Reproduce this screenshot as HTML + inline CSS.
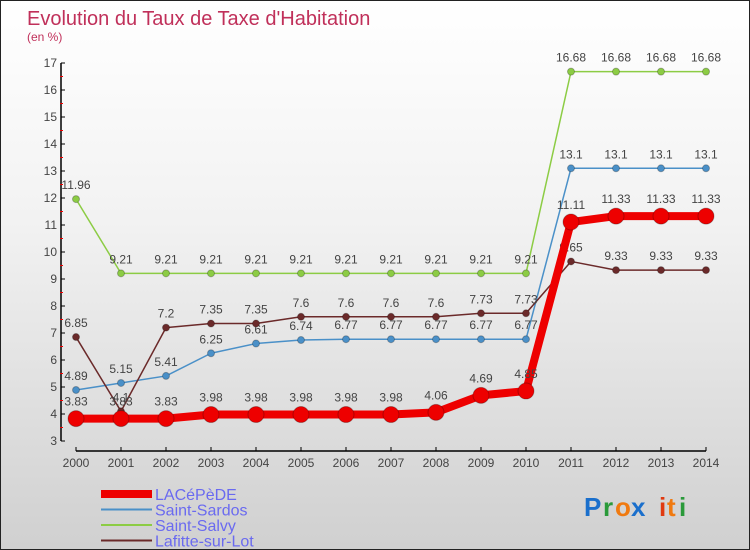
<!DOCTYPE html>
<html><head><meta charset="utf-8"><style>
body{margin:0;}
#c{width:750px;height:550px;position:relative;overflow:hidden;box-sizing:border-box;border:1px solid #222;background:linear-gradient(#ffffff,#f2f2f2 40%,#d0d0d0);font-family:"Liberation Sans",sans-serif;}
svg text{font-family:"Liberation Sans",sans-serif;}
</style></head><body>
<div id="c">
<svg id="s" width="750" height="550">
<text x="26" y="24" font-size="20" fill="#c0305a">Evolution du Taux de Taxe d'Habitation</text>
<text x="26" y="40" font-size="12" fill="#c0305a">(en %)</text>
<g id="axes"></g><g id="series"></g><g id="legend"></g>
<g font-size="26" font-weight="bold">
<text x="583" y="515" fill="#1a6fcc">P</text><text x="602" y="515" fill="#2a9a3a">r</text><text x="614" y="515" fill="#f07a10">o</text><text x="630" y="515" fill="#1a6fcc">x</text><text x="658" y="515" fill="#e03a10">i</text><text x="666" y="515" fill="#f07a10">t</text><text x="678" y="515" fill="#2a9a3a">i</text>
</g>
</svg>
</div>
<script>
const years=[2000,2001,2002,2003,2004,2005,2006,2007,2008,2009,2010,2011,2012,2013,2014];
const yTicks=[3,4,5,6,7,8,9,10,11,12,13,14,15,16,17];
const lacepede=[3.83,3.83,3.83,3.98,3.98,3.98,3.98,3.98,4.06,4.69,4.85,11.11,11.33,11.33,11.33];
const sardos=[4.89,5.15,5.41,6.25,6.61,6.74,6.77,6.77,6.77,6.77,6.77,13.1,13.1,13.1,13.1];
const salvy=[11.96,9.21,9.21,9.21,9.21,9.21,9.21,9.21,9.21,9.21,9.21,16.68,16.68,16.68,16.68];
const lafitte=[6.85,4.1,7.2,7.35,7.35,7.6,7.6,7.6,7.6,7.73,7.73,9.65,9.33,9.33,9.33];
const NS="http://www.w3.org/2000/svg";
const X=i=>75+i*45, Y=v=>440-(v-3)*27;
function mk(tag,attrs,parent){const e=document.createElementNS(NS,tag);for(const k in attrs)e.setAttribute(k,attrs[k]);parent.appendChild(e);return e;}
const ax=document.getElementById('axes');
let e=mk('line',{x1:60,y1:Y(17),x2:60,y2:Y(3),stroke:'#000','stroke-width':1.5},ax);


e=mk('line',{x1:X(0),y1:450,x2:X(14),y2:450,stroke:'#000','stroke-width':1.5},ax);


yTicks.forEach(t=>{
 mk('line',{x1:60,y1:Y(t),x2:64,y2:Y(t),stroke:'#000'},ax);
 if(t<17)mk('line',{x1:59,y1:Y(t+0.5),x2:62,y2:Y(t+0.5),stroke:'#e00'},ax);
 const tx=mk('text',{x:56,y:Y(t)+4,'font-size':12,fill:'#444','text-anchor':'end'},ax);tx.textContent=t;
 
 
});
years.forEach((y,i)=>{
 mk('line',{x1:X(i),y1:446,x2:X(i),y2:450,stroke:'#000'},ax);
 const tx=mk('text',{x:X(i),y:466,'font-size':12,fill:'#444','text-anchor':'middle'},ax);tx.textContent=y;
 
 
});
const sg=document.getElementById('series');
function series(vals,color,w,r,name,fmt){
 const g=mk('g',{},sg);
 
 
 const pl=mk('polyline',{points:vals.map((v,i)=>X(i)+','+Y(v)).join(' '),fill:'none',stroke:color,'stroke-width':w,'stroke-linejoin':'round'},g);
 
 
 vals.forEach((v,i)=>{
  const c=mk('circle',{cx:X(i),cy:Y(v),r:r,fill:color,stroke:'rgba(0,0,0,0.25)'},g);
  
  
  const t=mk('text',{x:X(i),y:Y(v)-(r>5?13:10),'font-size':12,fill:'#444','text-anchor':'middle'},g);t.textContent=v;
  
  
 });
}
series(salvy,'#8ccc44',1.5,3.5,'saint-salvy');
series(sardos,'#4a90c8',1.5,3.5,'saint-sardos');
series(lafitte,'#6b2a2a',1.5,3.5,'lafitte-sur-lot');
series(lacepede,'#ee0000',8,8,'lacepede');
const lg=document.getElementById('legend');
[['LACéPèDE','#ee0000',8],['Saint-Sardos','#4a90c8',2],['Saint-Salvy','#8ccc44',2],['Lafitte-sur-Lot','#6b2a2a',2]].forEach((d,i)=>{
 const y=493+i*15.5;
 const g=mk('g',{},lg);
 
 
 mk('line',{x1:100,y1:y,x2:151,y2:y,stroke:d[1],'stroke-width':d[2]},g);
 const t=mk('text',{x:154,y:y+6,'font-size':16,fill:'#6a6af0'},g);t.textContent=d[0];
});
</script>
</body></html>
